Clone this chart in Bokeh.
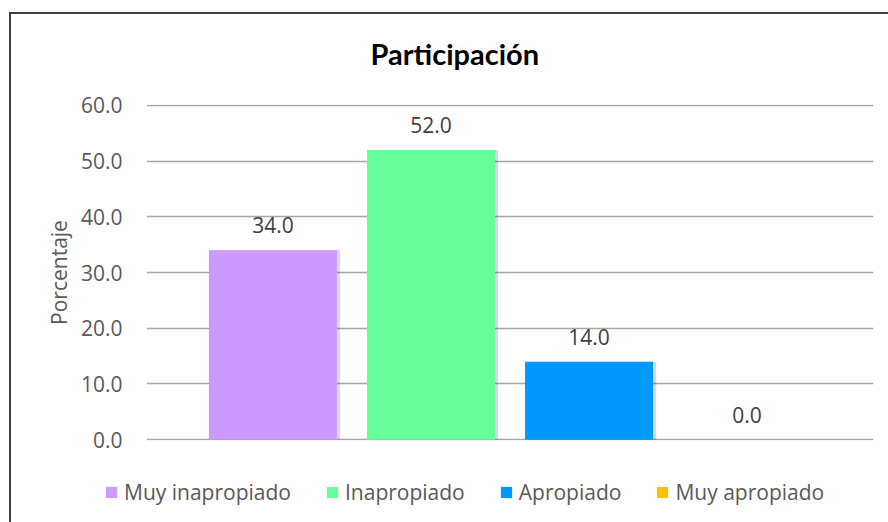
from bokeh.plotting import figure
from bokeh.layouts import column
from bokeh.models import (ColumnDataSource, FactorRange, Range1d, LabelSet, Legend,
                          LegendItem, SingleIntervalTicker, NumeralTickFormatter)
from bokeh.core.properties import value
from bokeh.transform import dodge
from bokeh.embed import file_html
from bokeh.resources import INLINE

categories = ["Muy inapropiado", "Inapropiado", "Apropiado", "Muy apropiado"]
values = [34.0, 52.0, 14.0, 0.0]
colors = ["#CC99FF", "#66FF99", "#0099FF", "#FFC000"]
labels = ["34.0", "52.0", "14.0", "0.0"]
title_text = "Participación"
y_title = "Porcentaje"

src = ColumnDataSource(dict(cat=categories, val=values, color=colors, lab=labels))

FONT = "Open Sans"
FS = "21px"
BORDER = "#404040"

p = figure(width=888, height=470, output_backend="svg", toolbar_location=None,
           x_range=FactorRange(factors=categories, range_padding=0.3,
                               range_padding_units="absolute"),
           y_range=Range1d(-0.15, 60.15),
           min_border_left=146, min_border_right=15, min_border_top=103,
           min_border_bottom=30)

# chart-area border (top and left edges visible, like the cropped original)
p.styles = {
    "background": (f"linear-gradient({BORDER},{BORDER}) 9px 12px / 2px 600px no-repeat, "
                   f"linear-gradient({BORDER},{BORDER}) 9px 12px / 1000px 2px no-repeat, "
                   "#ffffff")
}
p.border_fill_color = None
p.background_fill_color = None
p.outline_line_color = None

p.title.text = title_text
p.title.text_font = "Lato"
p.title.text_font_size = "29px"
p.title.text_font_style = "bold"
p.title.text_color = "#000000"
p.title.align = "left"
p.title.offset = 224
p.title.standoff = 67

p.xaxis.visible = False
p.xgrid.grid_line_color = None
p.ygrid.grid_line_color = "#A6A6A6"
p.ygrid.grid_line_width = 1.5

yax = p.yaxis[0]
yax.ticker = SingleIntervalTicker(interval=10)
yax.formatter = NumeralTickFormatter(format="0.0")
yax.axis_line_color = None
yax.major_tick_line_color = None
yax.minor_tick_line_color = None
yax.major_tick_in = 0
yax.major_tick_out = 0
yax.major_label_standoff = 20
yax.major_label_text_font = FONT
yax.major_label_text_font_size = FS
yax.major_label_text_color = "#595959"
yax.axis_label = y_title
yax.axis_label_text_font = FONT
yax.axis_label_text_font_size = FS
yax.axis_label_text_font_style = "normal"
yax.axis_label_text_color = "#595959"
yax.axis_label_standoff = 5

# soft shadow on the right of each bar
p.vbar(x=dodge("cat", 0.02, range=p.x_range), top="val", width=0.81, source=src,
       fill_color="#000000", fill_alpha=0.15, line_color=None)
p.vbar(x="cat", top="val", width=0.81, source=src,
       fill_color="color", line_color=None)

lbls = LabelSet(x="cat", y="val", text="lab", source=src, text_align="center",
                text_baseline="bottom", y_offset=17, text_font=value(FONT),
                text_font_size=value(FS), text_color="#404040")
p.add_layout(lbls)

# legend strip below the plot
lg = figure(width=888, height=52, output_backend="svg", toolbar_location=None,
            x_range=FactorRange(factors=categories), y_range=Range1d(100, 101),
            x_axis_location=None, y_axis_location=None,
            min_border_left=0, min_border_right=0, min_border_top=0, min_border_bottom=0)
lg.styles = {
    "background": (f"linear-gradient({BORDER},{BORDER}) 9px 0px / 2px 100px no-repeat, "
                   "#ffffff")
}
lg.border_fill_color = None
lg.background_fill_color = None
lg.outline_line_color = None
lg.grid.visible = False
leg_bars = lg.vbar(x="cat", top="val", width=0.81, source=src,
                   fill_color="color", line_color=None)

items = [LegendItem(label=c, renderers=[leg_bars], index=i) for i, c in enumerate(categories)]
legend = Legend(items=items, orientation="horizontal", location=(104, 16),
                glyph_width=14, glyph_height=14, label_standoff=6, spacing=34,
                padding=0, margin=0, border_line_color=None,
                background_fill_alpha=0, label_text_font=FONT,
                label_text_font_size=FS, label_text_color="#595959")
lg.add_layout(legend)

layout = column(p, column(lg, spacing=0), spacing=0)
open("out.html", "w").write(file_html(layout, INLINE))
